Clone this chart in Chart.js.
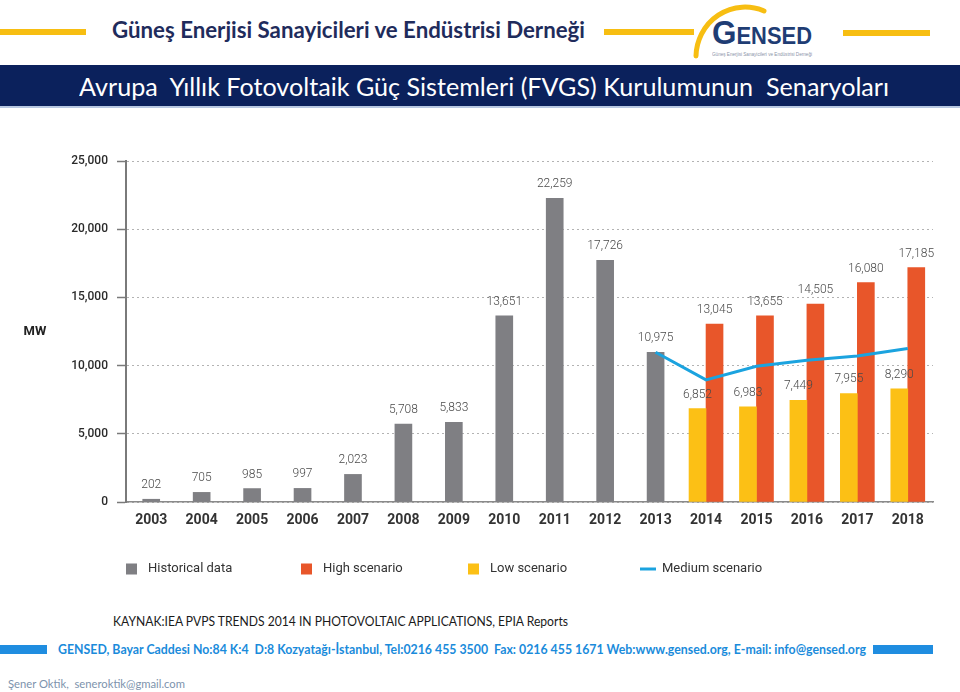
<!DOCTYPE html>
<html><head><meta charset="utf-8">
<script src="https://cdn.jsdelivr.net/npm/chart.js@4.4.1/dist/chart.umd.min.js"></script>
<style>
html,body{margin:0;padding:0;background:#fff;}
body{width:960px;height:692px;position:relative;overflow:hidden;font-family:Lato,"Liberation Sans",Arial,sans-serif;}
.abs{position:absolute;white-space:pre;}
[data-w]{transform-origin:left center;}
#chartBox{position:absolute;left:0;top:140px;width:960px;height:460px;}
</style></head><body>
<div class="abs" style="left:0;top:29px;width:86px;height:6px;background:#f7be12"></div>
<div class="abs" data-w="473" style="left:112px;top:16px;font-size:22px;line-height:28px;font-weight:bold;color:#1f2c5c">Güneş Enerjisi Sanayicileri ve Endüstrisi Derneği</div>
<div class="abs" style="left:604px;top:29px;width:90px;height:6px;background:#f7be12"></div>
<div class="abs" style="left:843px;top:30px;width:87px;height:6px;background:#f7be12"></div>
<svg class="abs" style="left:680px;top:0" width="120" height="65">
  <path d="M 16 56 A 49 50 0 0 1 84 11" stroke="#f7be12" stroke-width="5" fill="none" stroke-linecap="round"/>
</svg>
<div class="abs" data-w="100" style="left:712px;top:17px;line-height:32px;font-family:'Liberation Sans',Arial,sans-serif;font-weight:bold;color:#1f3d74"><span style="font-size:33px">G</span><span style="font-size:23px">ENSED</span></div>
<div class="abs" data-w="100" style="left:712px;top:51px;font-size:5px;line-height:6px;color:#8a93a8;font-family:'Liberation Sans',Arial,sans-serif">Güneş Enerjisi Sanayicileri ve Endüstrisi Derneği</div>
<div class="abs" style="left:0;top:65px;width:960px;height:42px;background:#0b215c"></div>
<div class="abs" style="left:0;top:106px;width:960px;height:2px;background:#b8c8e2"></div>
<div class="abs" data-w="810" style="left:79px;top:70px;font-size:25px;line-height:32px;color:#ffffff">Avrupa  Yıllık Fotovoltaik Güç Sistemleri (FVGS) Kurulumunun  Senaryoları</div>
<div id="chartBox"><canvas id="c" width="960" height="460"></canvas></div>
<div class="abs" data-w="455" style="left:113px;top:612px;font-size:14px;line-height:18px;color:#1a1a1a">KAYNAK:IEA PVPS TRENDS 2014 IN PHOTOVOLTAIC APPLICATIONS, EPIA Reports</div>
<div class="abs" style="left:0;top:645px;width:47px;height:9px;background:#1f8de0"></div>
<div class="abs" data-w="808" style="left:58px;top:640px;font-size:14px;line-height:18px;font-weight:bold;color:#1a8bdb">GENSED, Bayar Caddesi No:84 K:4  D:8 Kozyatağı-İstanbul, Tel:0216 455 3500  Fax: 0216 455 1671 Web:www.gensed.org, E-mail: info@gensed.org</div>
<div class="abs" style="left:873px;top:645px;width:60px;height:9px;background:#1f8de0"></div>
<div class="abs" data-w="177" style="left:8px;top:676px;font-size:12px;line-height:15px;color:#7d93ad">Şener Oktik,  seneroktik@gmail.com</div>
<script>
// ---- data ----
const years = ['2003','2004','2005','2006','2007','2008','2009','2010','2011','2012','2013','2014','2015','2016','2017','2018'];
const historicalData = [202,705,985,997,2023,5708,5833,13651,22259,17726,10975,null,null,null,null,null];
const lowScenario = [null,null,null,null,null,null,null,null,null,null,null,6852,6983,7449,7955,8290];
const highScenario = [null,null,null,null,null,null,null,null,null,null,null,13045,13655,14505,16080,17185];
const mediumScenario = [null,null,null,null,null,null,null,null,null,null,10975,8950,9950,10400,10700,11250];
const seriesNames = ['Historical data','Low scenario','High scenario','Medium scenario'];
const yAxisMin = 0, yAxisMax = 25000, yAxisStep = 5000;
const yAxisUnit = 'MW';

const COLORS = ['#7f7f83','#fcc015','#e8562a','#1ba3df'];
const fmt = v => Number(v).toLocaleString('en-US');

const valueLabels = {
  id:'valueLabels',
  afterDatasetsDraw(chart){
    const ctx = chart.ctx;
    ctx.save();
    ctx.font = '300 12px Roboto, "Liberation Sans", Arial';
    ctx.fillStyle = '#4a4a4a';
    ctx.textAlign = 'center';
    ctx.textBaseline = 'alphabetic';
    [0,1,2].forEach(di=>{
      const meta = chart.getDatasetMeta(di);
      const data = chart.data.datasets[di].data;
      meta.data.forEach((el,i)=>{
        if (data[i]==null) return;
        ctx.fillText(fmt(data[i]), el.x, el.y - 11);
      });
    });
    ctx.restore();
  }
};

const customLegend = {
  id:'customLegend',
  afterDraw(chart){
    const ctx = chart.ctx;
    const order = [0,2,1,3];
    const xs = [126,301,468,640];
    const y = 429;
    ctx.save();
    ctx.font = '13px Roboto, "Liberation Sans", Arial';
    ctx.fillStyle = '#333';
    ctx.textBaseline = 'middle';
    order.forEach((di,k)=>{
      const ds = chart.data.datasets[di];
      const x = xs[k];
      if (ds.type === 'line'){
        ctx.strokeStyle = ds.borderColor; ctx.lineWidth = 3;
        ctx.beginPath(); ctx.moveTo(x, y); ctx.lineTo(x+16, y); ctx.stroke();
      } else {
        ctx.fillStyle = ds.backgroundColor;
        ctx.fillRect(x, y-5.5, 11, 11);
      }
      ctx.fillStyle = '#333';
      ctx.fillText(ds.label, x+22, y);
    });
    // unit label
    const ys = chart.scales.y;
    ctx.font = 'bold 13px Roboto, "Liberation Sans", Arial';
    ctx.textAlign = 'center';
    ctx.fillStyle = '#222';
    ctx.fillText(yAxisUnit, 35, ys.getPixelForValue((yAxisMin+yAxisMax)/2));
    ctx.restore();
  }
};

new Chart(document.getElementById('c'), {
  data:{
    labels: years,
    datasets:[
      {type:'bar', label:seriesNames[0], data:historicalData, backgroundColor:COLORS[0], barThickness:17, skipNull:true, order:1},
      {type:'bar', label:seriesNames[1], data:lowScenario, backgroundColor:COLORS[1], barThickness:17, skipNull:true, order:1},
      {type:'bar', label:seriesNames[2], data:highScenario, backgroundColor:COLORS[2], barThickness:17, skipNull:true, order:1},
      {type:'line', label:seriesNames[3], data:mediumScenario, borderColor:COLORS[3], backgroundColor:COLORS[3], borderWidth:3, pointRadius:0, tension:0, order:0}
    ]
  },
  options:{
    responsive:false,
    animation:false,
    layout:{padding:{left:0,right:27,top:21,bottom:68}},
    plugins:{legend:{display:false}, tooltip:{enabled:false}},
    scales:{
      x:{
        grid:{display:false, drawTicks:false},
        border:{display:true, color:'#8a8a8a', width:1.5},
        ticks:{padding:10, color:'#333', font:{family:'Roboto', size:14, weight:'bold'}},
        afterFit(s){ s.height = 30; }
      },
      y:{
        min:yAxisMin, max:yAxisMax,
        afterFit(s){ s.width = 126; },
        ticks:{stepSize:yAxisStep, padding:9, color:'#2a2a2a', font:{family:'Roboto', size:12, weight:'500'}, callback:v=>fmt(v)},
        grid:{color:'#b3b3b3', lineWidth:1, tickLength:9, tickColor:'#7a7a7a', tickWidth:1.5, tickBorderDash:[]},
        border:{display:true, color:'#7a7a7a', width:2, dash:[2,3]}
      }
    }
  },
  plugins:[valueLabels, customLegend]
});

document.querySelectorAll('[data-w]').forEach(el=>{
  const w = el.getBoundingClientRect().width;
  el.style.transform = 'scaleX(' + (+el.dataset.w / w) + ')';
});
</script>
</body></html>
